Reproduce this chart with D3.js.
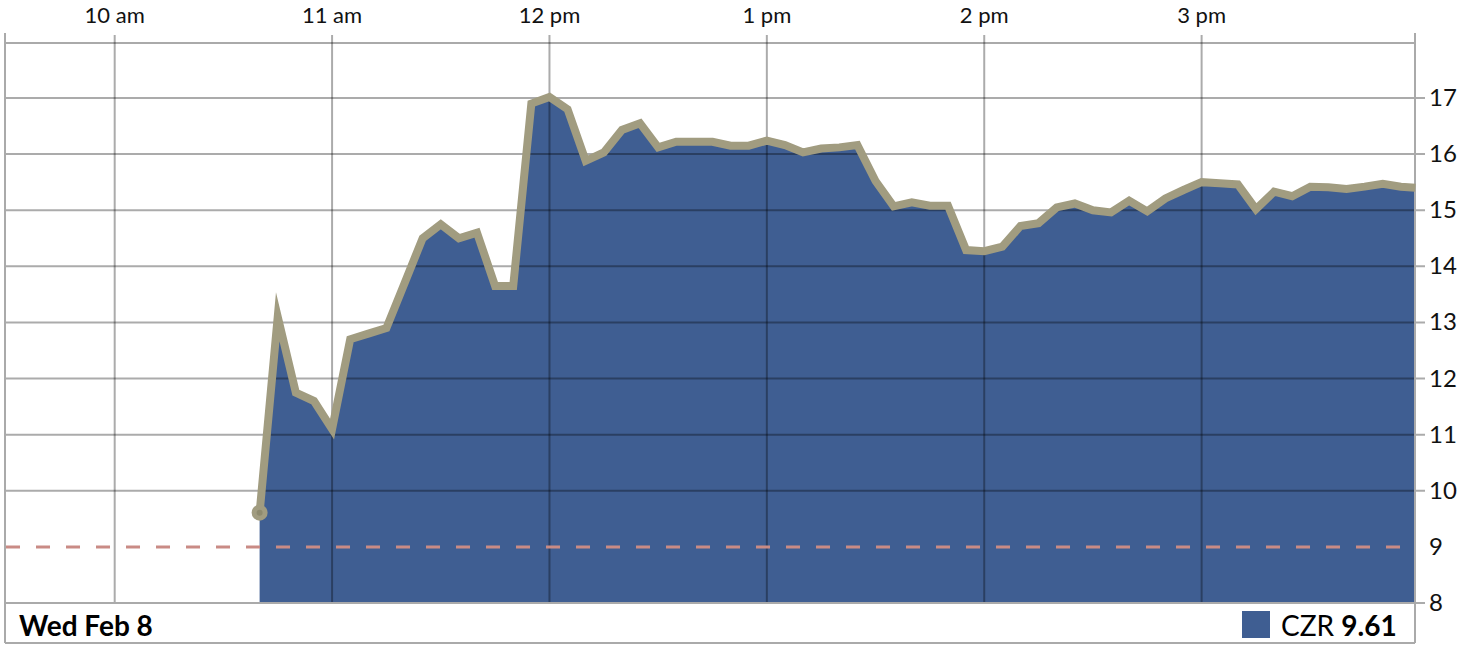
<!DOCTYPE html>
<html>
<head>
<meta charset="utf-8">
<script src="https://cdn.jsdelivr.net/npm/d3@7"></script>
<style>
  body { margin: 0; background: #fff; }
  svg { display: block; font-family: Lato, "Open Sans", sans-serif; }
</style>
</head>
<body>
<div id="wrapper"></div>
<script>
// data (CZR, Wed Feb 8, 5 minute bars)
const times = ["10:40","10:45","10:50","10:55","11:00","11:05","11:10","11:15","11:20","11:25",
  "11:30","11:35","11:40","11:45","11:50","11:55","12:00","12:05","12:10","12:15",
  "12:20","12:25","12:30","12:35","12:40","12:45","12:50","12:55","13:00","13:05",
  "13:10","13:15","13:20","13:25","13:30","13:35","13:40","13:45","13:50","13:55",
  "14:00","14:05","14:10","14:15","14:20","14:25","14:30","14:35","14:40","14:45",
  "14:50","14:55","15:00","15:05","15:10","15:15","15:20","15:25","15:30","15:35",
  "15:40","15:45","15:50","15:55","15:59"]
const prices = [9.61,13.1,11.75,11.6,11.1,12.7,12.8,12.9,13.7,14.5,
  14.75,14.5,14.6,13.65,13.65,16.9,17.02,16.8,15.88,16.03,
  16.43,16.55,16.12,16.22,16.22,16.22,16.15,16.15,16.24,16.16,
  16.03,16.1,16.12,16.16,15.52,15.07,15.14,15.08,15.08,14.29,
  14.27,14.35,14.72,14.77,15.05,15.12,15.0,14.96,15.17,14.98,
  15.21,15.36,15.5,15.48,15.46,15.02,15.33,15.25,15.42,15.41,
  15.38,15.42,15.47,15.42,15.4]
const hourTicks = ["10:00","11:00","12:00","13:00","14:00","15:00"]
const hourLabels = ["10 am","11 am","12 pm","1 pm","2 pm","3 pm"]
const priceTicks = [8,9,10,11,12,13,14,15,16,17]
const prevClose = 9
const dateLabel = "Wed Feb 8"
const symbol = "CZR"
const lastPrice = "9.61"

const parseTime = d3.timeParse("%Y-%m-%d %H:%M")
const toDate = t => parseTime("2012-02-08 " + t)
const dataset = times.map((t, i) => ({date: toDate(t), price: prices[i]}))

dimensions = {
  width: 1457, height: 646,
  left: 5, right: 1415, plotTop: 43, top: 33, bottom: 603, footer: 643
}

const svg = d3.select("#wrapper").append("svg")
  .attr("width", dimensions.width)
  .attr("height", dimensions.height)

const xScale = d3.scaleTime()
  .domain([toDate("09:30"), toDate("16:00")])
  .range([6, 1419])
const yScale = d3.scaleLinear()
  .domain([8, 17])
  .range([dimensions.bottom, 98])

const blue = "#3f5e92"
const tan = "#a19c80"
const grid = "#aaaaaa"

// area under price
const area = d3.area()
  .x(d => xScale(d.date)).y0(yScale(8)).y1(d => yScale(d.price))
svg.append("path").datum(dataset).attr("d", area).attr("fill", blue)

// horizontal grid + right axis
svg.append("line")
  .attr("x1", dimensions.left).attr("x2", dimensions.right)
  .attr("y1", dimensions.plotTop).attr("y2", dimensions.plotTop)
  .attr("stroke", grid).attr("stroke-width", 2)

svg.selectAll(".hgrid").data(priceTicks.filter(v => v !== prevClose)).enter().append("line")
  .attr("x1", dimensions.left).attr("x2", dimensions.right + 10)
  .attr("y1", d => yScale(d)).attr("y2", d => yScale(d))
  .attr("stroke", "rgba(0,0,0,0.33)").attr("stroke-width", 2)

// vertical hour grid + top axis
svg.selectAll(".vgrid").data(hourTicks).enter().append("line")
  .attr("x1", d => xScale(toDate(d))).attr("x2", d => xScale(toDate(d)))
  .attr("y1", 35).attr("y2", dimensions.bottom)
  .attr("stroke", "rgba(0,0,0,0.33)").attr("stroke-width", 2)

svg.selectAll(".hourLabel").data(hourTicks).enter().append("text")
  .attr("x", d => xScale(toDate(d))).attr("y", 23)
  .attr("text-anchor", "middle").attr("font-size", 22).attr("fill", "#111")
  .text((d, i) => hourLabels[i])

svg.selectAll(".priceLabel").data(priceTicks).enter().append("text")
  .attr("x", 1429).attr("y", d => yScale(d) + 8)
  .attr("font-size", 24).attr("fill", "#111")
  .text(d => d)

// previous close
svg.append("line")
  .attr("x1", dimensions.left + 1).attr("x2", dimensions.right)
  .attr("y1", yScale(prevClose)).attr("y2", yScale(prevClose))
  .attr("stroke", "#c98b85").attr("stroke-width", 3)
  .attr("stroke-dasharray", "14,16")

// frame
const frame = svg.append("g").attr("stroke", grid).attr("stroke-width", 2)
frame.append("line").attr("x1", dimensions.left).attr("x2", dimensions.left)
  .attr("y1", dimensions.top).attr("y2", dimensions.footer)
frame.append("line").attr("x1", dimensions.right).attr("x2", dimensions.right)
  .attr("y1", dimensions.top).attr("y2", dimensions.footer)
frame.append("line").attr("x1", dimensions.left).attr("x2", dimensions.right)
  .attr("y1", dimensions.footer).attr("y2", dimensions.footer)
frame.append("line").attr("x1", dimensions.left).attr("x2", dimensions.right)
  .attr("y1", dimensions.bottom).attr("y2", dimensions.bottom)

// price line
const line = d3.line().x(d => xScale(d.date)).y(d => yScale(d.price))
svg.append("path").datum(dataset).attr("d", line)
  .attr("fill", "none").attr("stroke", tan).attr("stroke-width", 8)
  .attr("stroke-linejoin", "miter").attr("stroke-miterlimit", 10)

svg.append("circle")
  .attr("cx", xScale(dataset[0].date)).attr("cy", yScale(dataset[0].price))
  .attr("r", 8).attr("fill", tan)
svg.append("circle")
  .attr("cx", xScale(dataset[0].date)).attr("cy", yScale(dataset[0].price))
  .attr("r", 3).attr("fill", "#8e8a6e")

// footer
svg.append("text").attr("x", 19).attr("y", 636)
  .attr("font-size", 28).attr("font-weight", "bold").attr("fill", "#000")
  .text(dateLabel)

svg.append("rect").attr("x", 1242).attr("y", 611).attr("width", 28).attr("height", 27)
  .attr("fill", blue)
const legendText = svg.append("text").attr("x", 1281).attr("y", 636)
  .attr("font-size", 28).attr("fill", "#000")
legendText.append("tspan").text(symbol + " ")
legendText.append("tspan").attr("font-weight", "bold").text(lastPrice)
</script>
</body>
</html>
